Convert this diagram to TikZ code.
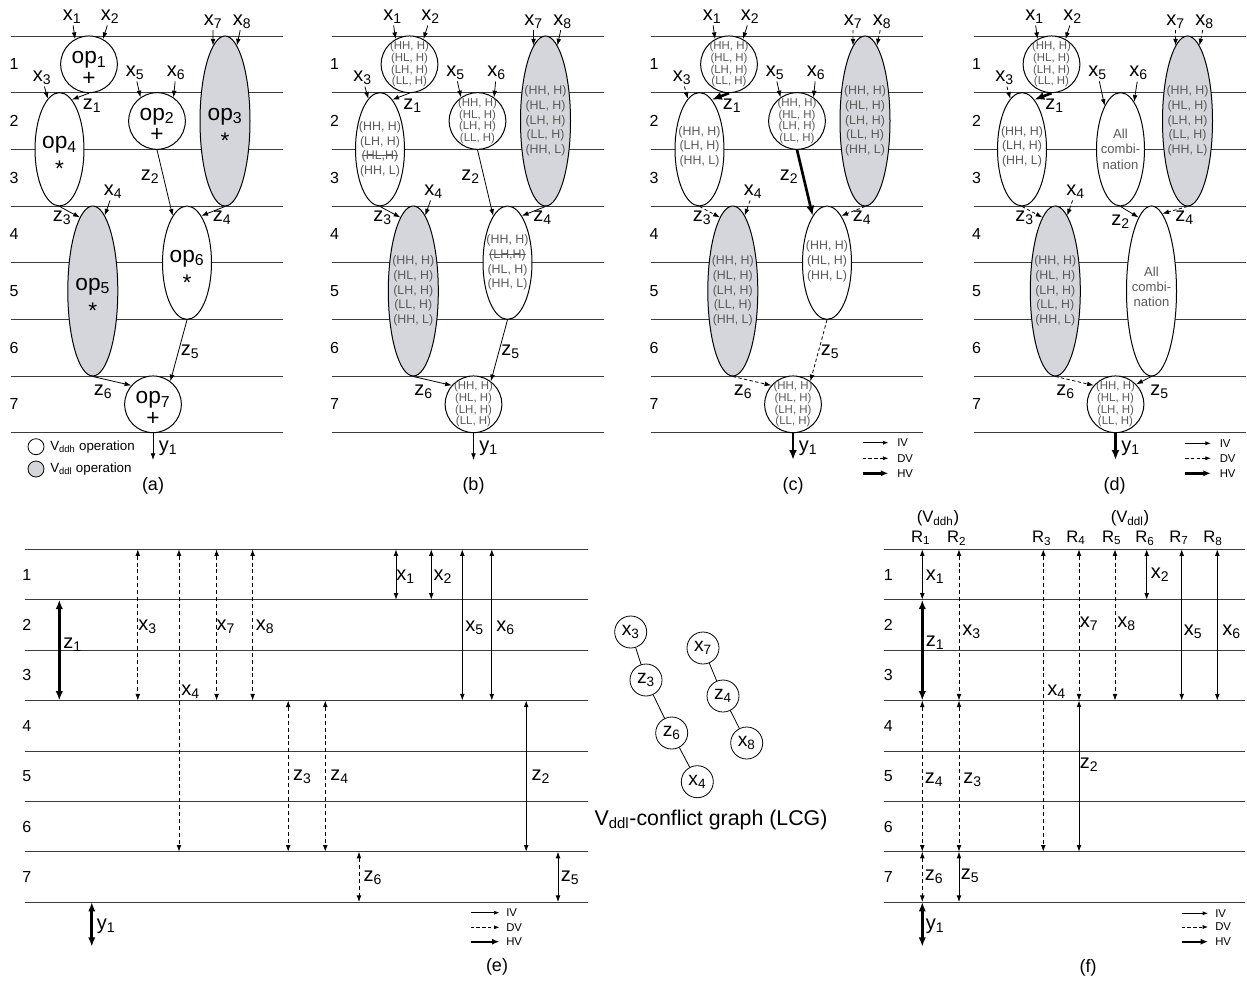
\documentclass[tikz,border=0pt]{standalone}
\usepackage{fontspec}
\setmainfont{Liberation Sans}
\usetikzlibrary{arrows.meta,shapes.geometric}

\definecolor{lowgray}{RGB}{212,214,219}
\definecolor{tupgray}{RGB}{90,90,90}
\definecolor{gridcol}{RGB}{60,60,60}

\newcommand\varX[1]{x\textsubscript{#1}}
\newcommand\varZ[1]{z\textsubscript{#1}}
\newcommand\varY[1]{y\textsubscript{#1}}
\newcommand\opN[1]{op\textsubscript{#1}}
\newcommand\stararg{\raisebox{-5pt}{*}}
\newsavebox\strikebox
\newcommand\struck[1]{\sbox\strikebox{#1}\rlap{\raisebox{0.3em}{\rule{\wd\strikebox}{0.55pt}}}\usebox\strikebox}
\newcommand\fourH{(HH, H)\\(HL, H)\\(LH, H)\\(LL, H)}
\newcommand\fiveT{(HH, H)\\(HL, H)\\(LH, H)\\(LL, H)\\(HH, L)}
\newcommand\threeT[1]{(HH, H)\\(#1, H)\\(HH, L)}

% border angles where the edges meet op2 / op6
\newcommand\angXfive{125}
\newcommand\angXsix{55}
\newcommand\angZtwo{107}
\newcommand\angZfour{73}
\newcommand\angZfive{53}

\tikzset{
  gridline/.style={draw=gridcol, line width=0.55pt},
  rowno/.style={font=\fontsize{12}{12}\selectfont, inner sep=0pt},
  lbl/.style={font=\fontsize{15}{15}\selectfont, inner sep=1pt},
  hdr/.style={font=\fontsize{12.5}{13}\selectfont, inner sep=0pt},
  captxt/.style={font=\fontsize{13.5}{14}\selectfont, inner sep=0pt},
  keyt/.style={font=\fontsize{8.5}{9}\selectfont, inner sep=0pt},
  legt/.style={font=\fontsize{10}{10}\selectfont, inner sep=0pt},
  opbase/.style={draw, line width=0.75pt, inner sep=0pt, fill=white},
  circ/.style={opbase, circle, minimum size=42.5pt},
  ell2/.style={opbase, ellipse, minimum width=36.75pt, minimum height=85pt},
  ell3/.style={opbase, ellipse, minimum width=37.5pt, minimum height=127.5pt},
  ddl/.style={fill=lowgray},
  opname/.style={font=\fontsize{17}{16}\selectfont, align=center, inner sep=0pt},
  opplus/.style={opname, yshift=-3pt},
  opstar/.style={opname, yshift=-5.5pt},
  tup/.style={font=\fontsize{9.3}{11}\selectfont, text=tupgray, align=center, inner sep=0pt},
  tupc/.style={font=\fontsize{8.6}{8.7}\selectfont, text=tupgray, align=center, inner sep=0pt},
  allc/.style={font=\fontsize{9.8}{11.3}\selectfont, text=tupgray, align=center, inner sep=0pt},
  iv/.style={-{Latex[length=5pt,width=3.6pt]}, line width=0.6pt},
  dv/.style={iv, dash pattern=on 2.5pt off 1.8pt},
  hv/.style={-{Latex[length=7.5pt,width=6pt]}, line width=2pt},
  ivb/.style={{Latex[length=5pt,width=3.6pt]}-{Latex[length=5pt,width=3.6pt]}, line width=0.6pt},
  dvb/.style={ivb, dash pattern=on 3pt off 2.2pt},
  hvb/.style={{Latex[length=7pt,width=5.5pt]}-{Latex[length=7pt,width=5.5pt]}, line width=2pt},
  ivk/.style={-{Latex[length=4pt,width=3pt]}, line width=0.5pt},
  dvk/.style={ivk, dash pattern=on 2.5pt off 1.8pt},
  hvk/.style={-{Latex[length=5.5pt,width=4.5pt]}, line width=1.8pt},
  lcgn/.style={circle, draw, line width=0.6pt, minimum size=24pt, inner sep=0pt, font=\fontsize{14.5}{14.5}\selectfont},
  lcge/.style={line width=0.6pt},
  lcgt/.style={font=\fontsize{16}{16}\selectfont, inner sep=0pt},
  set-a/.style={e-x12/.style=iv, e-x78/.style=iv, e-x3/.style=iv, e-z1/.style=iv,
    e-x56/.style=iv, e-z2/.style=iv, e-x4/.style=iv, e-z3/.style=iv, e-z4/.style=iv,
    e-z5/.style=iv, e-z6/.style=iv, e-y1/.style=iv},
  set-c/.style={e-x12/.style=iv, e-x78/.style=dv, e-x3/.style=dv, e-z1/.style=hv,
    e-x56/.style=iv, e-z2/.style=hv, e-x4/.style=dv, e-z3/.style=dv, e-z4/.style=dv,
    e-z5/.style=dv, e-z6/.style=dv, e-y1/.style=hv},
  set-d/.style={e-x12/.style=iv, e-x78/.style=dv, e-x3/.style=dv, e-z1/.style=hv,
    e-x56/.style=iv, e-z2/.style=iv, e-x4/.style=dv, e-z3/.style=dv, e-z4/.style=dv,
    e-z5/.style=iv, e-z6/.style=dv, e-y1/.style=hv},
}

% control-step grid: 8 lines, 7 numbered rows
\newcommand\rowgrid[6]{%
  \foreach \k in {0,...,7}{\draw[gridline] (#2,{#4+\k*#5}) -- (#3,{#4+\k*#5});}
  \foreach \k in {1,...,7}{\node[rowno] (#1-row\k) at (#6,{#4+(\k-0.5)*#5}) {\k};}
}

% operations whose shape is the same in every scheduled graph
\newcommand\fixedops[1]{%
  \node[circ] (#1-op1) at (89,64.3) {};
  \node[ell3,ddl] (#1-op3) at (225,121) {};
  \node[ell2] (#1-op4) at (59.5,149.3) {};
  \node[ell3,ddl] (#1-op5) at (92.8,291) {};
  \node[circ] (#1-op7) at (153,404.3) {};
}

% variable names around the operations
\newcommand\inputlabels[1]{%
  \node[lbl] (#1-x1) at (72,17) {\varX1};
  \node[lbl] (#1-x2) at (110,17) {\varX2};
  \node[lbl] (#1-x7) at (213,21.7) {\varX7};
  \node[lbl] (#1-x8) at (242,21.7) {\varX8};
  \node[lbl] (#1-x3) at (42,78) {\varX3};
  \node[lbl] (#1-z1) at (92,106) {\varZ1};
  \node[lbl] (#1-x5) at (135,73) {\varX5};
  \node[lbl] (#1-x6) at (176,73) {\varX6};
  \node[lbl] (#1-x4) at (113,192) {\varX4};
  \node[lbl] (#1-z3) at (62,218) {\varZ3};
  \node[lbl] (#1-z4) at (222,218) {\varZ4};
  \node[lbl] (#1-z6) at (103,392) {\varZ6};
  \node[lbl] (#1-y1) at (168,448) {\varY1};
  \coordinate (#1-out) at (153,460);
}

% data-flow edges; line style of each comes from the panel's set-* style
\newcommand\flowedges[1]{%
  \draw[e-x12] (#1-x1) -- (#1-op1.119);
  \draw[e-x12] (#1-x2) -- (#1-op1.61);
  \draw[e-x78] (#1-x7) -- (#1-op3.99);
  \draw[e-x78] (#1-x8) -- (#1-op3.81);
  \draw[e-x3] (#1-x3) -- (#1-op4.103);
  \draw[e-z1] (#1-op1.south) -- (#1-op4.76);
  \draw[e-x56] (#1-x5) -- (#1-op2.\angXfive);
  \draw[e-x56] (#1-x6) -- (#1-op2.\angXsix);
  \draw[e-z2] (#1-op2.south) -- (#1-op6.\angZtwo);
  \draw[e-x4] (#1-x4) -- (#1-op5.81);
  \draw[e-z3] (#1-op4.south) -- (#1-op5.100);
  \draw[e-z4] (#1-op3.south) -- (#1-op6.\angZfour);
  \draw[e-z5] (#1-op6.south) -- (#1-op7.\angZfive);
  \draw[e-z6] (#1-op5.south) -- (#1-op7.139);
  \draw[e-y1] (#1-op7.south) -- (#1-out);
}

% IV / DV / HV key
\newcommand\keyblock[7]{%
  \coordinate (#1-kiv0) at (#2,#5); \coordinate (#1-kiv1) at (#3,#5);
  \coordinate (#1-kdv0) at (#2,#6); \coordinate (#1-kdv1) at (#3,#6);
  \coordinate (#1-khv0) at (#2,#7); \coordinate (#1-khv1) at (#3,#7);
  \draw[ivk] (#1-kiv0) -- (#1-kiv1);
  \draw[dvk] (#1-kdv0) -- (#1-kdv1);
  \draw[hvk] (#1-khv0) -- (#1-khv1);
  \node[keyt, anchor=west] (#1-kiv) at (#4,#5) {IV};
  \node[keyt, anchor=west] (#1-kdv) at (#4,#6) {DV};
  \node[keyt, anchor=west] (#1-khv) at (#4,#7) {HV};
}

% variable lifetime: style, name, x, y from, y to, label x, label y, label
\newcommand\life[8]{%
  \coordinate (#2-s) at (#3,#4);
  \coordinate (#2-e) at (#3,#5);
  \draw[#1] (#2-s) -- (#2-e);
  \node[lbl] (#2) at (#6,#7) {#8};
}

\begin{document}
\begin{tikzpicture}[x=0.75pt,y=-0.75pt]
\useasboundingbox (0,0) rectangle (1247,982);
\fill[white] (0,0) rectangle (1247,982);

%%%%%%%%%%%%%%%% (a) scheduled DFG
\begin{scope}[set-a]
  \rowgrid{a}{11}{283}{36}{56.67}{14}
  \fixedops{a}
  \node[circ] (a-op2) at (157,121) {};
  \node[ell2] (a-op6) at (187,262.7) {};
  \node[opplus] (a-t1) at (a-op1) {\opN1\\+};
  \node[opplus] (a-t2) at (a-op2) {\opN2\\+};
  \node[opstar] (a-t3) at (a-op3) {\opN3\\\stararg};
  \node[opstar] (a-t4) at (a-op4) {\opN4\\\stararg};
  \node[opstar] (a-t5) at (a-op5) {\opN5\\\stararg};
  \node[opstar] (a-t6) at (a-op6) {\opN6\\\stararg};
  \node[opplus] (a-t7) at (a-op7) {\opN7\\+};
  \inputlabels{a}
  \node[lbl] (a-z2) at (150,177) {\varZ2};
  \node[lbl] (a-z5) at (190,351.7) {\varZ5};
  \flowedges{a}
  \node[circle, draw, line width=0.6pt, minimum size=12pt, inner sep=0pt, fill=white] (a-kh) at (36,446.7) {};
  \node[legt, anchor=west] (a-kht) at (50,446.7) {V\textsubscript{ddh} operation};
  \node[circle, draw, line width=0.6pt, minimum size=12pt, inner sep=0pt, fill=lowgray] (a-kl) at (36,469) {};
  \node[legt, anchor=west] (a-klt) at (50,469) {V\textsubscript{ddl} operation};
  \node[captxt] (a-cap) at (153,486) {(a)};
\end{scope}

%%%%%%%%%%%%%%%% (b) candidate voltage combinations
\begin{scope}[shift={(320.5,0)}, set-a]
  \rowgrid{b}{11}{283}{36}{56.67}{14}
  \fixedops{b}
  \node[circ] (b-op2) at (157,121) {};
  \node[ell2] (b-op6) at (187,262.7) {};
  \node[tupc] (b-t1) at (b-op1) {\fourH};
  \node[tupc] (b-t2) at (b-op2) {\fourH};
  \node[tup] (b-t3) at (b-op3) {\fiveT};
  \node[tup] (b-t4) at (b-op4) {(HH, H)\\(LH, H)\\\struck{(HL,H)}\\(HH, L)};
  \node[tup] (b-t5) at (b-op5) {\fiveT};
  \node[tup] (b-t6) at (b-op6) {(HH, H)\\\struck{(LH,H)}\\(HL, H)\\(HH, L)};
  \node[tupc] (b-t7) at (b-op7) {\fourH};
  \inputlabels{b}
  \node[lbl] (b-z2) at (150,177) {\varZ2};
  \node[lbl] (b-z5) at (190,351.7) {\varZ5};
  \flowedges{b}
  \node[captxt] (b-cap) at (153,486) {(b)};
\end{scope}

%%%%%%%%%%%%%%%% (c)
\begin{scope}[shift={(640,0)}, set-c]
  \rowgrid{c}{11}{283}{36}{56.67}{14}
  \fixedops{c}
  \node[circ] (c-op2) at (157,121) {};
  \node[ell2] (c-op6) at (187,262.7) {};
  \node[tupc] (c-t1) at (c-op1) {\fourH};
  \node[tupc] (c-t2) at (c-op2) {\fourH};
  \node[tup] (c-t3) at (c-op3) {\fiveT};
  \node[tup] (c-t4) at ([yshift=2pt]c-op4.center) {\threeT{LH}};
  \node[tup] (c-t5) at (c-op5) {\fiveT};
  \node[tup] (c-t6) at ([yshift=1pt]c-op6.center) {\threeT{HL}};
  \node[tupc] (c-t7) at (c-op7) {\fourH};
  \inputlabels{c}
  \node[lbl] (c-z2) at (149,177) {\varZ2};
  \node[lbl] (c-z5) at (190,351.7) {\varZ5};
  \flowedges{c}
  \keyblock{c}{222.7}{248.3}{257}{442.7}{458.3}{473.3}
  \node[captxt] (c-cap) at (153,486) {(c)};
\end{scope}

%%%%%%%%%%%%%%%% (d)
\begin{scope}[shift={(962.5,0)}, set-d]
  \renewcommand\angXfive{110}
  \renewcommand\angXsix{74}
  \renewcommand\angZtwo{100}
  \renewcommand\angZfour{82}
  \renewcommand\angZfive{44}
  \rowgrid{d}{11}{283}{36}{56.67}{14}
  \fixedops{d}
  \node[ell2, minimum width=36pt] (d-op2) at (158,149.3) {};
  \node[ell3] (d-op6) at (189,291) {};
  \node[tupc] (d-t1) at (d-op1) {\fourH};
  \node[allc] (d-t2) at (d-op2) {All\\combi-\\nation};
  \node[tup] (d-t3) at (d-op3) {\fiveT};
  \node[tup] (d-t4) at ([yshift=2pt]d-op4.center) {\threeT{LH}};
  \node[tup] (d-t5) at (d-op5) {\fiveT};
  \node[allc] (d-t6) at ([yshift=3pt]d-op6.center) {All\\combi-\\nation};
  \node[tupc] (d-t7) at (d-op7) {\fourH};
  \inputlabels{d}
  \node[lbl] (d-z2) at (158.2,221.7) {\varZ2};
  \node[lbl] (d-z5) at (197,392) {\varZ5};
  \flowedges{d}
  \keyblock{d}{222.7}{248.3}{257}{443.3}{458.3}{473.3}
  \node[captxt] (d-cap) at (152,486) {(d)};
\end{scope}

%%%%%%%%%%%%%%%% (e) variable lifetimes
\rowgrid{e}{24.9}{588}{549.3}{50.4}{26.8}
\life{hvb}{e-z1}{59.3}{599.7}{700.5}{72.7}{645}{\varZ1}
\life{dvb}{e-x3}{137.8}{549.3}{700.5}{147.7}{626.7}{\varX3}
\life{dvb}{e-x4}{179}{549.3}{851.7}{190.6}{691.7}{\varX4}
\life{dvb}{e-x7}{216.6}{549.3}{700.5}{225.8}{626.7}{\varX7}
\life{dvb}{e-x8}{252.6}{549.3}{700.5}{265.2}{626.7}{\varX8}
\life{ivb}{e-x1}{396}{549.3}{599.7}{405.7}{576.7}{\varX1}
\life{ivb}{e-x2}{431.3}{549.3}{599.7}{442.8}{576.7}{\varX2}
\life{ivb}{e-x5}{462.3}{549.3}{700.5}{474.6}{628}{\varX5}
\life{ivb}{e-x6}{491.8}{549.3}{700.5}{505.5}{628}{\varX6}
\life{dvb}{e-z3}{288.2}{700.5}{851.7}{302.3}{777}{\varZ3}
\life{dvb}{e-z4}{325.3}{700.5}{851.7}{339.5}{777}{\varZ4}
\life{ivb}{e-z2}{526.2}{700.5}{851.7}{540.8}{777}{\varZ2}
\life{dvb}{e-z6}{359}{851.7}{902.1}{372.8}{878}{\varZ6}
\life{ivb}{e-z5}{558}{851.7}{902.1}{570.2}{878}{\varZ5}
\life{hvb}{e-y1}{91.8}{902.1}{946.7}{106}{926.7}{\varY1}
\keyblock{e}{470.7}{499.4}{506}{912.7}{927.3}{941.7}
\node[captxt] (e-cap) at (497,967) {(e)};

%%%%%%%%%%%%%%%% conflict graph
\node[lcgn] (g-x3) at (630.7,632) {\varX3};
\node[lcgn] (g-z3) at (646,680) {\varZ3};
\node[lcgn] (g-z6) at (671.7,733) {\varZ6};
\node[lcgn] (g-x4) at (697.3,781.7) {\varX4};
\node[lcgn] (g-x7) at (703,648) {\varX7};
\node[lcgn] (g-z4) at (723,696) {\varZ4};
\node[lcgn] (g-x8) at (746.7,743) {\varX8};
\draw[lcge] (g-x3) -- (g-z3);
\draw[lcge] (g-z3) -- (g-z6);
\draw[lcge] (g-z6) -- (g-x4);
\draw[lcge] (g-x7) -- (g-z4);
\draw[lcge] (g-z4) -- (g-x8);
\node[lcgt] (g-title) at (711,820) {V\textsubscript{ddl}-conflict graph (LCG)};

%%%%%%%%%%%%%%%% (f) register binding
\rowgrid{f}{884}{1245}{549.3}{50.4}{888.3}
\node[hdr] (f-vh) at (938,518) {(V\textsubscript{ddh})};
\node[hdr] (f-vl) at (1130,518) {(V\textsubscript{ddl})};
\foreach \i/\xx in {1/920.7,2/956.7,3/1041.7,4/1076,5/1111.7,6/1145,7/1179,8/1213}
  {\node[hdr] (f-R\i) at (\xx,538) {R\textsubscript{\i}};}
\life{ivb}{f-x1}{922.3}{549.3}{599.7}{935}{576.7}{\varX1}
\life{hvb}{f-z1}{922.3}{599.7}{700.5}{935}{643}{\varZ1}
\life{dvb}{f-z4}{922.3}{700.5}{851.7}{934}{780}{\varZ4}
\life{dvb}{f-z6}{922.3}{851.7}{902.1}{934}{877}{\varZ6}
\life{hvb}{f-y1}{922.3}{902.1}{946.7}{935}{926.7}{\varY1}
\life{dvb}{f-x3}{959}{549.3}{700.5}{971.7}{631.7}{\varX3}
\life{dvb}{f-z3}{959}{700.5}{851.7}{972.7}{780}{\varZ3}
\life{ivb}{f-z5}{959}{851.7}{902.1}{970}{876}{\varZ5}
\life{dvb}{f-x4}{1043.3}{549.3}{851.7}{1056.7}{691.7}{\varX4}
\life{dvb}{f-x7}{1079}{549.3}{700.5}{1089}{624}{\varX7}
\life{ivb}{f-z2}{1079}{700.5}{851.7}{1089}{765}{\varZ2}
\life{dvb}{f-x8}{1115}{549.3}{700.5}{1126.7}{624}{\varX8}
\life{ivb}{f-x2}{1146.7}{549.3}{599.7}{1160}{575}{\varX2}
\life{ivb}{f-x5}{1181.7}{549.3}{700.5}{1193}{631.7}{\varX5}
\life{ivb}{f-x6}{1217.3}{549.3}{700.5}{1231.7}{631.7}{\varX6}
\keyblock{f}{1181.7}{1208}{1215}{913.3}{927}{941.7}
\node[captxt] (f-cap) at (1088,968) {(f)};
\end{tikzpicture}
\end{document}
